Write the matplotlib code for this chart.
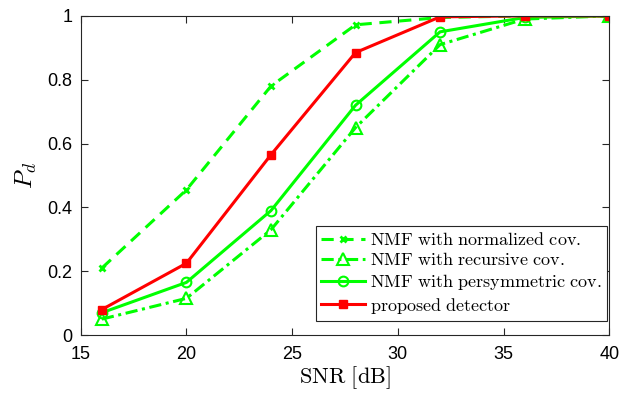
import matplotlib
matplotlib.use("Agg")
import matplotlib.pyplot as plt

plt.rcParams["mathtext.fontset"] = "cm"
plt.rcParams["font.family"] = ["Liberation Sans", "DejaVu Sans"]

snr = [16, 20, 24, 28, 32, 36, 40]
pd_normalized = [0.21, 0.455, 0.78, 0.972, 0.995, 1.0, 1.0]
pd_recursive = [0.05, 0.115, 0.33, 0.65, 0.91, 0.99, 1.0]
pd_persym = [0.07, 0.165, 0.39, 0.72, 0.95, 0.995, 1.0]
pd_proposed = [0.08, 0.225, 0.565, 0.885, 0.997, 1.0, 1.0]

labels = [
    r"$\mathrm{NMF\ with\ normalized\ cov.}$",
    r"$\mathrm{NMF\ with\ recursive\ cov.}$",
    r"$\mathrm{NMF\ with\ persymmetric\ cov.}$",
    r"$\mathrm{proposed\ detector}$",
]

green = "#00ff00"
red = "#ff0000"

fig = plt.figure(figsize=(6.21, 3.97), dpi=100)
ax = fig.add_axes([0.130, 0.156, 0.851, 0.804])

ax.plot(snr, pd_normalized, color=green, ls=(0, (4, 2.5)), lw=2.2, marker="x",
        ms=5, mew=2, label=labels[0])
ax.plot(snr, pd_recursive, color=green, ls=(0, (4, 1.5, 1, 1.5)), lw=2.2, marker="^",
        ms=8, mfc="none", mew=1.5, label=labels[1])
ax.plot(snr, pd_persym, color=green, ls="-", lw=2.2, marker="o",
        ms=7, mfc="none", mew=1.5, label=labels[2])
ax.plot(snr, pd_proposed, color=red, ls="-", lw=2.2, marker="s",
        ms=6, mfc=red, mec=red, label=labels[3])

ax.set_xlim(15, 40)
ax.set_ylim(0, 1)
ax.set_xticks([15, 20, 25, 30, 35, 40])
ax.set_yticks([0, 0.2, 0.4, 0.6, 0.8, 1])
ax.set_yticklabels(["0", "0.2", "0.4", "0.6", "0.8", "1"])
ax.tick_params(direction="in", top=True, right=True, labelsize=13, length=5,
               color="#262626", width=0.8)
ax.tick_params(axis="x", pad=8)
ax.tick_params(axis="y", pad=6)
for s in ax.spines.values():
    s.set_color("#262626")
    s.set_linewidth(0.8)

ax.set_xlabel(r"$\mathrm{SNR\ [dB]}$", fontsize=16, labelpad=1)
ax.set_ylabel(r"$P_d$", fontsize=18, labelpad=6)

leg = ax.legend(loc="lower right", bbox_to_anchor=(0.996, 0.044), fontsize=13,
                fancybox=False, framealpha=1, edgecolor="#262626",
                handlelength=2.4, handletextpad=0.3, borderpad=0.3,
                labelspacing=0.18, borderaxespad=0)
leg.get_frame().set_linewidth(0.8)

fig.savefig("out.png", dpi=100)
